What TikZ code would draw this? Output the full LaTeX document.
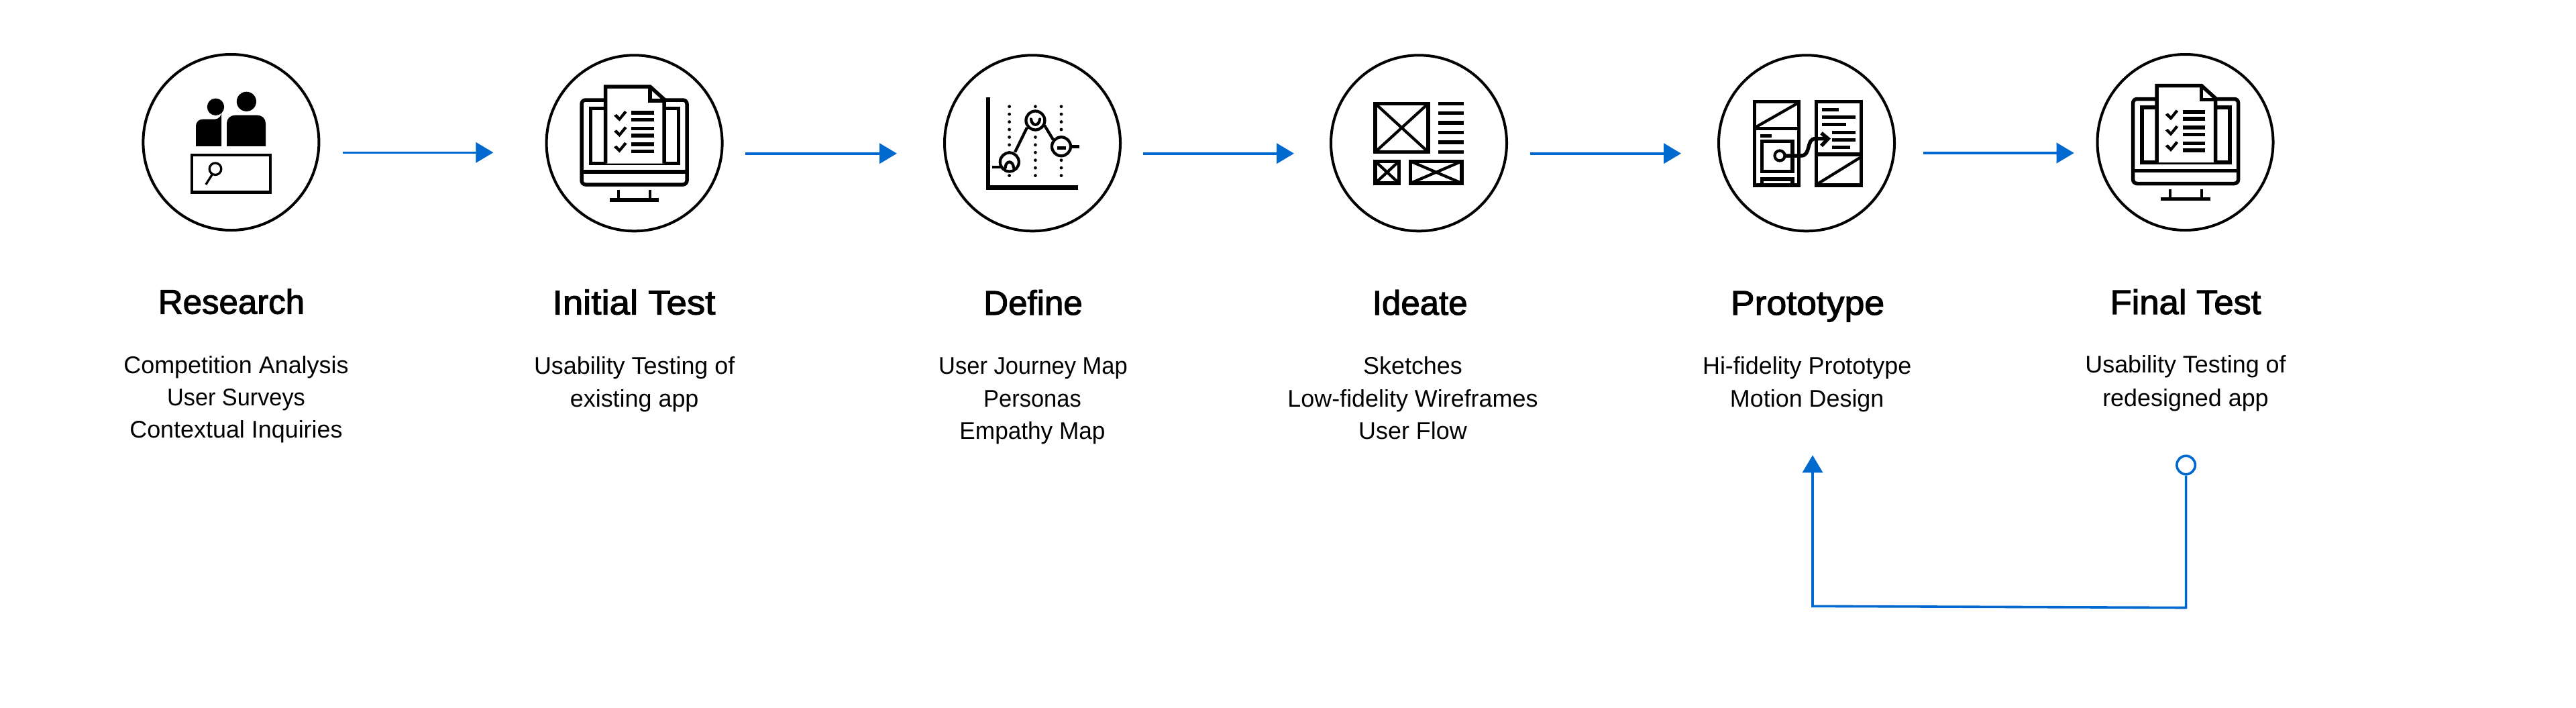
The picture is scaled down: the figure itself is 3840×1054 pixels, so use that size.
\documentclass[tikz,border=0pt]{standalone}
\usepackage{fontspec}
\setmainfont{Liberation Sans}
\newfontfamily\titlefont[FakeBold=2.2]{Liberation Sans}
\usetikzlibrary{arrows.meta}
\definecolor{flow}{HTML}{0069D0}
\newcommand{\widthfit}[2]{\scalebox{#1}[1]{#2}}
\tikzset{
  stagecircle/.style={circle,draw=black,line width=0.8pt,minimum size=52.4pt,inner sep=0pt},
  stagetitle/.style={anchor=base,inner sep=0pt,font=\titlefont\fontsize{10.2}{12}\selectfont},
  stagetext/.style={anchor=base,inner sep=0pt,align=center,font=\fontsize{7.18}{9.6}\selectfont},
  flowline/.style={draw=flow,line width=0.72pt,-{Triangle[length=5.2pt,width=6pt,fill=flow]}},
  ico/.style={draw=black,line width=1.1pt},
  thin ico/.style={draw=black,line width=0.85pt},
  pics/monitoricon/.style={code={
    \draw[ico,rounded corners=1.2pt] (867,149) rectangle (1024,275);
    \draw[ico] (880.5,161.5) rectangle (1011.5,243.5);
    \draw[ico] (867,256) -- (1024,256);
    \draw[thin ico] (922,283) -- (922,296) (969,283) -- (969,296);
    \fill[black] (908.7,295) rectangle (982,300.7);
    \filldraw[ico,fill=white] (902.5,243.5) -- (902.5,129) -- (969,129) -- (990,148) -- (990,243.5);
    \draw[ico] (969,129) -- (969,150) -- (990,150);
    \foreach \dy in {0,23.4,46.8}{
      \fill[black] (915,{172.5+\dy}) -- (919,{170+\dy}) -- (923.5,{174.5+\dy}) -- (931,{165+\dy}) -- (934.6,{167.5+\dy}) -- (923.5,{180.7+\dy}) -- cycle;
      \fill[black] (941.2,{165.3+\dy}) rectangle (974.8,{171+\dy});
      \fill[black] (941.2,{175.7+\dy}) rectangle (974.8,{181.3+\dy});
    }
  }}
}
\begin{document}
\begin{tikzpicture}[x=0.2pt,y=-0.2pt]
\useasboundingbox (0,0) rectangle (3840,1054);
% stage circles
\node[stagecircle] (c1) at (344.4,212) {};
\node[stagecircle] (c2) at (945.6,213.3) {};
\node[stagecircle] (c3) at (1539,213.3) {};
\node[stagecircle] (c4) at (2115,213.3) {};
\node[stagecircle] (c5) at (2693,213.3) {};
\node[stagecircle] (c6) at (3257.5,212) {};
% titles
\node[stagetitle] (t1) at (345,467.5) {Research};
\node[stagetitle] (t2) at (945,468.5) {\widthfit{1.07}{Initial Test}};
\node[stagetitle] (t3) at (1540,469) {Define};
\node[stagetitle] (t4) at (2116.7,469) {Ideate};
\node[stagetitle] (t5) at (2694.5,469) {\widthfit{1.05}{Prototype}};
\node[stagetitle] (t6) at (3258,468) {\widthfit{1.03}{Final Test}};
% descriptions
\node[stagetext] (d1a) at (352,556) {Competition Analysis};
\node[stagetext] (d1b) at (352,604.3) {\widthfit{.955}{User Surveys}};
\node[stagetext] (d1c) at (352,652.3) {Contextual Inquiries};
\node[stagetext] (d2a) at (945.7,557.3) {Usability Testing of};
\node[stagetext] (d2b) at (945.7,606) {existing app};
\node[stagetext] (d3a) at (1540,557.3) {\widthfit{.96}{User Journey Map}};
\node[stagetext] (d3b) at (1539,606) {\widthfit{.96}{Personas}};
\node[stagetext] (d3c) at (1539,654) {\widthfit{.98}{Empathy Map}};
\node[stagetext] (d4a) at (2106,557.3) {Sketches};
\node[stagetext] (d4b) at (2106,606) {Low-fidelity Wireframes};
\node[stagetext] (d4c) at (2106,654) {User Flow};
\node[stagetext] (d5a) at (2693.7,557.3) {Hi-fidelity Prototype};
\node[stagetext] (d5b) at (2693.7,606) {Motion Design};
\node[stagetext] (d6a) at (3258,555.7) {Usability Testing of};
\node[stagetext] (d6b) at (3258,605) {redesigned app};
% flow arrows
\coordinate (a1s) at (510.7,227.3); \coordinate (a1e) at (735.4,227.3);
\coordinate (a2s) at (1111,228.7);  \coordinate (a2e) at (1337,228.7);
\coordinate (a3s) at (1703.8,228.7);\coordinate (a3e) at (1929,228.7);
\coordinate (a4s) at (2281,228.7);  \coordinate (a4e) at (2506,228.7);
\coordinate (a5s) at (2867,228);    \coordinate (a5e) at (3091.7,228);
\foreach \n in {1,...,5}{\draw[flowline] (a\n s) -- (a\n e);}
% feedback loop
\node[circle,draw=flow,fill=white,line width=0.72pt,minimum size=5.5pt,inner sep=0pt] (fb) at (3258.6,693) {};
\coordinate (fbr) at (3258.6,905.5);
\coordinate (fbl) at (2702,903.3);
\coordinate (fbt) at (2702,678.3);
\draw[flowline] (fb.south) -- (fbr) -- (fbl) -- (fbt);
% icon 1: research
\fill[black] (367.4,151.3) circle[radius=14.6];
\fill[black] (321.5,159.3) circle[radius=12.7];
\fill[black,rounded corners=2.4pt] (338,230) -- (338,171.7) -- (396,171.7) -- (396,230) -- cycle;
\fill[white] (330,217.7) rectangle (400,235);
\fill[black,rounded corners=2pt] (292,230) -- (292,177.7) -- (330,177.7) -- (330,177.7) -- (330,230) -- cycle;
\fill[white] (285,217.7) rectangle (400,235);
\draw[thin ico] (285.8,230.8) rectangle (403.2,286.5);
\draw[line width=0.65pt] (321,251.7) circle[radius=8.8];
\draw[line width=0.65pt] (316,260.5) -- (306.8,275);
% icon 2: initial test
\pic at (0,0) {monitoricon};
% icon 3: define
\draw[line width=1.3pt] (1473,145) -- (1473,279.3) -- (1607.3,279.3);
\foreach \cx in {1504.6,1543.4,1582}{
  \foreach \k in {0,...,9}{
    \fill[black] (\cx,{158.7+11.43*\k}) circle[radius=2.4];
  }
}
\draw[thin ico] (1479.4,249.3) -- (1492,249.3);
\draw[thin ico] (1513,226.7) -- (1531,190);
\draw[thin ico] (1557,186.7) -- (1570,208.3);
\draw[ico] (1597.6,218.3) -- (1609,218.3);
\filldraw[thin ico,fill=white] (1504.8,241.5) circle[radius=14];
\filldraw[thin ico,fill=white] (1543.4,179.5) circle[radius=14];
\filldraw[thin ico,fill=white] (1582,218.3) circle[radius=14];
\draw[thin ico,line cap=round] (1498.5,250) .. controls (1499.5,238.5) and (1510,238.5) .. (1511,250);
\draw[thin ico,line cap=round] (1537,177.5) .. controls (1538,188.5) and (1549,188.5) .. (1550,177.5);
\draw[ico] (1575.5,220.7) -- (1589,220.7);
% icon 4: ideate
\draw[ico] (2050,154.3) rectangle (2129,226.5);
\draw[thin ico] (2050,154.3) -- (2129,226.5) (2129,154.3) -- (2050,226.5);
\foreach \ly in {154.3,168.7,183,197.7,212,226.7}{
  \draw[ico] (2143.7,\ly) -- (2181.7,\ly);
}
\draw[ico] (2050,240.3) rectangle (2085.4,273);
\draw[thin ico] (2050,240.3) -- (2085.4,273) (2085.4,240.3) -- (2050,273);
\draw[ico] (2102.6,240.3) rectangle (2179,273);
\draw[thin ico] (2102.6,240.3) -- (2179,273) (2179,240.3) -- (2102.6,273);
% icon 5: prototype
\draw[ico] (2615.3,151.5) rectangle (2681.7,276);
\draw[ico] (2615.3,191.7) -- (2681.7,191.7);
\draw[thin ico] (2617.5,189.3) -- (2680.6,153.3);
\fill[black] (2623.8,200) rectangle (2640.5,205);
\draw[ico] (2626.4,210.3) rectangle (2671.8,255.3);
\draw[ico] (2626.4,276) -- (2626.4,267) -- (2671.8,267) -- (2671.8,276);
\draw[ico] (2707.6,151.5) rectangle (2774.7,276);
\draw[ico] (2707.6,230) -- (2774.7,230);
\draw[thin ico] (2710.5,273.3) -- (2772.5,235);
\fill[black] (2716,161) rectangle (2741,166);
\fill[black] (2716,172.3) rectangle (2766,177.3);
\fill[black] (2716,183.3) rectangle (2752.4,188.3);
\fill[black] (2730.6,194.7) rectangle (2766,199.7);
\fill[black] (2730.6,205.7) rectangle (2766,210.7);
\fill[black] (2730.6,217) rectangle (2758,222);
\filldraw[thin ico,fill=white] (2653,232) circle[radius=7.5];
\draw[ico] (2660.5,232) -- (2685,232) .. controls (2700,232) and (2692,206.7) .. (2706,206.7) -- (2724,206.7);
\draw[ico] (2715,198.3) -- (2725,206.7) -- (2715,217.3);
% icon 6: final test
\pic at (2312.6,-1.5) {monitoricon};
\end{tikzpicture}
\end{document}
